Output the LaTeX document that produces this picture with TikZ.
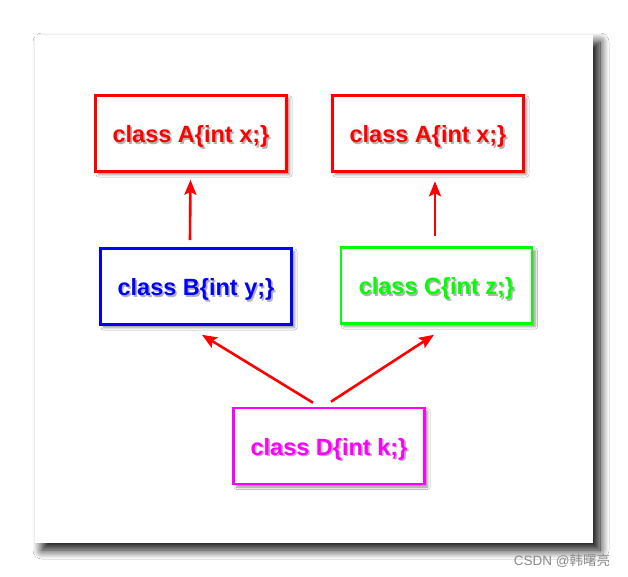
\documentclass[tikz,border=0pt]{standalone}
\usepackage{fontspec}
\setmainfont{Liberation Sans}
\newfontfamily\cjkfont{Noto Sans CJK SC}
\usetikzlibrary{arrows.meta,shadows,shadows.blur}

\definecolor{pred}{RGB}{255,0,0}
\definecolor{pblue}{RGB}{0,0,255}
\definecolor{pgreen}{RGB}{0,255,0}
\definecolor{pmagenta}{RGB}{255,0,255}

\newcommand\shadowed[2]{\rlap{\hspace{1.6pt}\raisebox{-1.6pt}{\textcolor{black!30}{#2}}}\textcolor{#1}{#2}}

\begin{document}
\begin{tikzpicture}[
  x = 1pt, y = -1pt,
  card/.style = {fill = white, draw = none,
                 blur shadow = {shadow xshift = 7pt, shadow yshift = -7pt,
                                shadow blur radius = 9pt, shadow opacity = 95,
                                shadow blur steps = 14}},
  classbox/.style = {draw = #1, line width = 2.6pt, fill = white,
                     minimum width = 191pt, minimum height = 76pt,
                     text height = 20pt, text depth = 2pt,
                     font = \fontsize{23.5}{27}\selectfont\bfseries,
                     blur shadow = {shadow xshift = 3pt, shadow yshift = -3pt,
                                    shadow blur radius = 2.5pt, shadow opacity = 45}},
  arrow/.style = {draw = pred, line width = 2.6pt,
                  -{Stealth[length = 15pt, width = 12pt, inset = 3pt]}},
  ]
  \useasboundingbox[fill = white] (0,0) rectangle (628,577);
  \path[card] (35,35) rectangle (593,543);

  \node[classbox = pred]     (clsA1) at (191,133.5) {\shadowed{pred}{class A\{int x;\}}};
  \node[classbox = pred]     (clsA2) at (428,133.5) {\shadowed{pred}{class A\{int x;\}}};
  \node[classbox = pblue]    (clsB)  at (196,286.5) {\shadowed{pblue}{class B\{int y;\}}};
  \node[classbox = pgreen]   (clsC)  at (436.5,285.5) {\shadowed{pgreen}{class C\{int z;\}}};
  \node[classbox = pmagenta] (clsD)  at (329,446) {\shadowed{pmagenta}{class D\{int k;\}}};

  \draw[arrow] ([shift = {(-6,-7)}]clsB.north) -- ([shift = {(-0.5,7)}]clsA1.south);
  \draw[arrow] ([shift = {(-1.5,-10)}]clsC.north) -- ([shift = {(7,8.5)}]clsA2.south);
  \draw[arrow] ([shift = {(-16,-4)}]clsD.north) -- ([shift = {(6,9)}]clsB.south);
  \draw[arrow] ([shift = {(2,-5)}]clsD.north) -- ([shift = {(-2.5,10)}]clsC.south);

  \node[text = black!45, font = \fontsize{13.5}{15}\selectfont] (mark) at (562,561)
    {CSDN @{\cjkfont 韩曙亮}};
\end{tikzpicture}
\end{document}
